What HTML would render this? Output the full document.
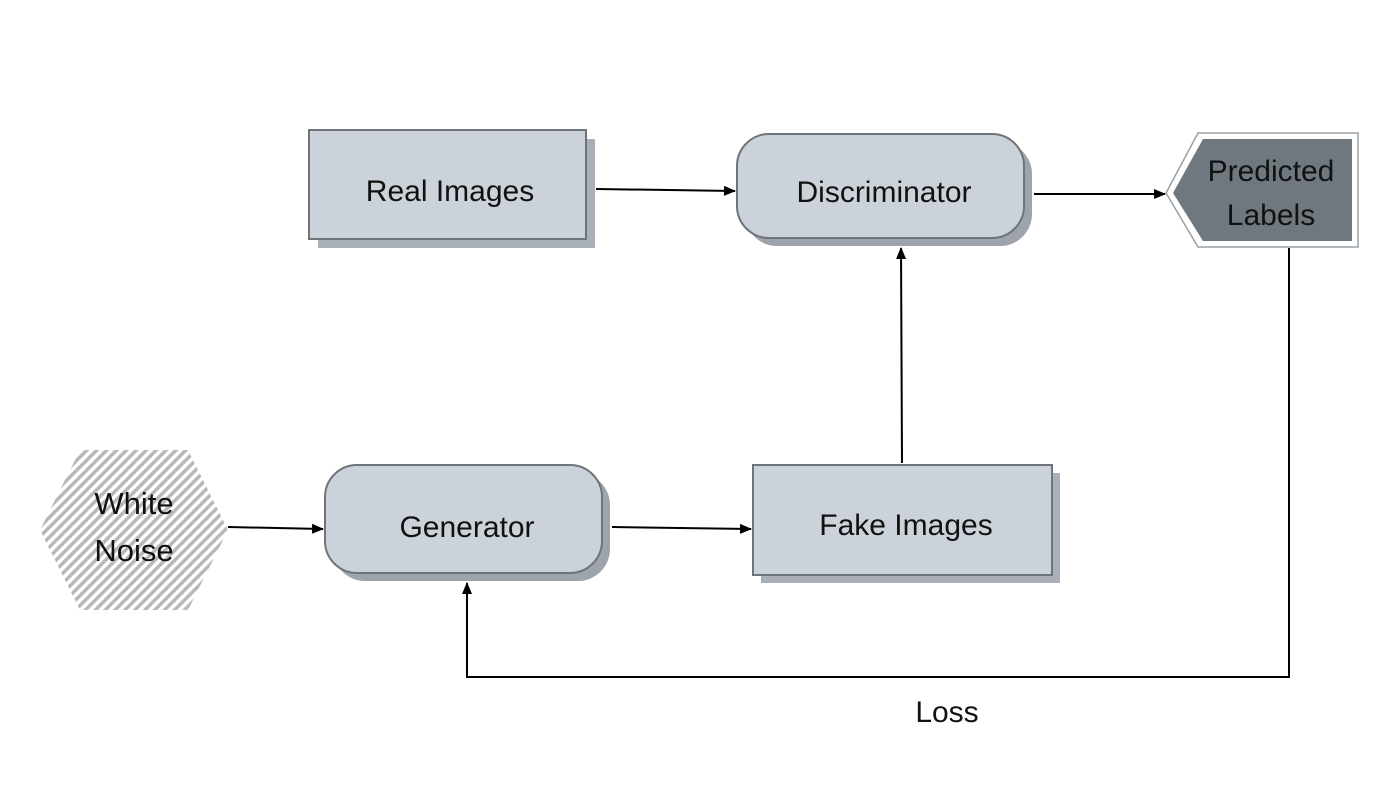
<!DOCTYPE html>
<html><head><style>html,body{margin:0;padding:0;background:#fff}svg{display:block}</style></head>
<body>
<svg width="1400" height="788" viewBox="0 0 1400 788" xmlns="http://www.w3.org/2000/svg" font-family="Liberation Sans, sans-serif">
<defs>
<pattern id="st" width="7" height="7" patternUnits="userSpaceOnUse" patternTransform="rotate(45)">
<rect width="7" height="7" fill="#fff"/><rect width="3.5" height="7" fill="#b8b8b8"/>
</pattern>
<marker id="a" markerWidth="12" markerHeight="12" refX="11" refY="6" orient="auto" markerUnits="userSpaceOnUse">
<path d="M0,1 L12,6 L0,11 Z" fill="#000"/>
</marker>
</defs>
<rect x="318" y="139" width="277" height="109" fill="#aab0b8"/>
<rect x="309" y="130" width="277" height="109" fill="#ccd2d9" stroke="#6e747a" stroke-width="2"/>
<text x="450" y="201" font-size="30" text-anchor="middle" fill="#111">Real Images</text>
<rect x="745" y="142" width="287" height="104" rx="32" fill="#9ea4ac"/>
<rect x="737" y="134" width="287" height="104" rx="32" fill="#ccd2d9" stroke="#6e747a" stroke-width="2"/>
<text x="884" y="202" font-size="30" text-anchor="middle" fill="#111">Discriminator</text>
<polygon points="1166,193 1198,133 1358,133 1358,247 1198,247" fill="#fff" stroke="#9aa0a6" stroke-width="1.5"/>
<polygon points="1173,193 1203,139 1352,139 1352,241 1203,241" fill="#6f777f"/>
<text x="1271" y="181" font-size="30" text-anchor="middle" fill="#111">Predicted</text>
<text x="1271" y="225" font-size="30" text-anchor="middle" fill="#111">Labels</text>
<polygon points="40,530 80,450 188,450 228,530 188,610 80,610" fill="url(#st)"/>
<text x="134" y="514" font-size="31" text-anchor="middle" fill="#111">White</text>
<text x="134" y="561" font-size="31" text-anchor="middle" fill="#111">Noise</text>
<rect x="333" y="473" width="277" height="108" rx="32" fill="#9ea4ac"/>
<rect x="325" y="465" width="277" height="108" rx="32" fill="#ccd2d9" stroke="#6e747a" stroke-width="2"/>
<text x="467" y="537" font-size="30" text-anchor="middle" fill="#111">Generator</text>
<rect x="761" y="473" width="299" height="110" fill="#aab0b8"/>
<rect x="753" y="465" width="299" height="110" fill="#ccd2d9" stroke="#6e747a" stroke-width="2"/>
<text x="906" y="535" font-size="30" text-anchor="middle" fill="#111">Fake Images</text>
<g stroke="#000" stroke-width="2" fill="none">
<line x1="596" y1="189" x2="735" y2="191" marker-end="url(#a)"/>
<line x1="1034" y1="194" x2="1165" y2="194" marker-end="url(#a)"/>
<line x1="228" y1="527" x2="323" y2="529" marker-end="url(#a)"/>
<line x1="612" y1="527" x2="751" y2="529" marker-end="url(#a)"/>
<line x1="902" y1="463" x2="901" y2="248" marker-end="url(#a)"/>
<polyline points="1289,248 1289,677 467,677 467,583" marker-end="url(#a)"/>
</g>
<text x="947" y="722" font-size="30" text-anchor="middle" fill="#111">Loss</text>
</svg>
</body></html>
